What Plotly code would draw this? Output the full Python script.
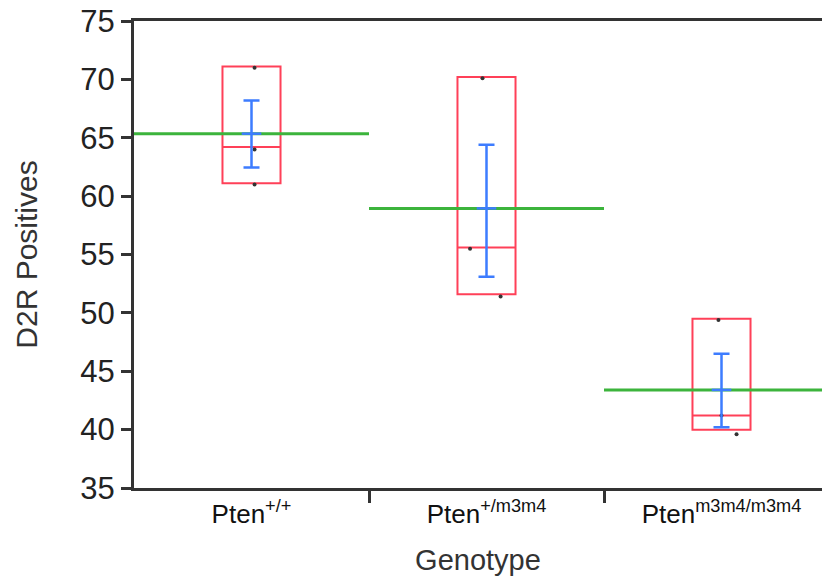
import plotly.graph_objects as go

categories = ["Pten<sup>+/+</sup>", "Pten<sup>+/m3m4</sup>", "Pten<sup>m3m4/m3m4</sup>"]
box_low = [61.1, 51.6, 40.0]
box_high = [71.1, 70.2, 49.5]
medians = [64.2, 55.6, 41.2]
means = [65.35, 58.95, 43.4]
err_low = [62.45, 53.1, 40.2]
err_high = [68.2, 64.4, 46.5]
points = [[71.0, 64.0, 61.0], [70.1, 55.5, 51.4], [49.4, 41.2, 39.6]]
jitter = [[0.013, 0.013, 0.013], [-0.017, -0.07, 0.06], [-0.013, 0.0, 0.064]]
y_ticks = [35, 40, 45, 50, 55, 60, 65, 70, 75]

RED = "#ff4058"
GREEN = "#3cb43c"
BLUE = "#3d7cff"
AX = "#333333"
FONT = "Liberation Sans, Arial, sans-serif"
NARROW = "Liberation Sans Narrow, Arial Narrow, Liberation Sans, sans-serif"

xs = list(range(len(categories)))
fig = go.Figure()

# boxes
for i in xs:
    fig.add_trace(go.Box(
        x=[i], q1=[box_low[i]], q3=[box_high[i]], median=[medians[i]],
        lowerfence=[box_low[i]], upperfence=[box_high[i]],
        width=0.247, line=dict(color=RED, width=2),
        fillcolor="rgba(0,0,0,0)", boxpoints=False, hoverinfo="skip",
        showlegend=False,
    ))

# raw points
px, py = [], []
for i in xs:
    for v, j in zip(points[i], jitter[i]):
        px.append(i + j)
        py.append(v)
fig.add_trace(go.Scatter(x=px, y=py, mode="markers",
                         marker=dict(color="#333333", size=4),
                         showlegend=False, hoverinfo="skip"))

# group mean lines
gx, gy = [], []
for i in xs:
    gx += [i - 0.5, i + 0.5, None]
    gy += [means[i], means[i], None]
fig.add_trace(go.Scatter(x=gx, y=gy, mode="lines",
                         line=dict(color=GREEN, width=3),
                         showlegend=False, hoverinfo="skip"))

# mean error bars
fig.add_trace(go.Scatter(
    x=xs, y=means, mode="markers",
    marker=dict(symbol="line-ew", size=14, line=dict(color=BLUE, width=2.5), color=BLUE),
    error_y=dict(type="data", symmetric=False,
                 array=[h - m for h, m in zip(err_high, means)],
                 arrayminus=[m - l for m, l in zip(means, err_low)],
                 color=BLUE, thickness=2.5, width=8),
    showlegend=False, hoverinfo="skip"))

fig.update_layout(
    width=822, height=582,
    margin=dict(l=134, r=0, t=21, b=94),
    plot_bgcolor="white", paper_bgcolor="white",
    font=dict(family=FONT, color="#1a1a1a"),
    xaxis=dict(
        automargin=False,
        range=[-0.5, -0.5 + 688 / 235], tickmode="array", tickvals=xs, ticktext=categories,
        ticks="outside", ticklen=1, tickcolor="rgba(0,0,0,0)",
        tickfont=dict(size=26, color="#111111", family=NARROW),
        ticklabeloverflow="allow",
        showline=True, linecolor=AX, linewidth=3, mirror=True,
        showgrid=False, zeroline=False,
        minor=dict(tickvals=[0.5, 1.5], ticks="outside", ticklen=12, tickwidth=2.5, tickcolor=AX),
        title=dict(text="Genotype", font=dict(size=29, color="#333333", family=FONT), standoff=22),
    ),
    yaxis=dict(
        automargin=False,
        range=[35, 75], tickmode="array", tickvals=y_ticks,
        ticks="outside", ticklen=10, tickwidth=2.5, tickcolor=AX,
        tickfont=dict(size=31, color="#222222", family=FONT),
        ticklabeloverflow="allow",
        showline=True, linecolor=AX, linewidth=3,
        showgrid=False, zeroline=False,
        title=dict(text="D2R Positives", font=dict(size=30, color="#333333", family=FONT), standoff=34),
    ),
)

fig.write_html("out.html", config={"displayModeBar": False},
               post_script="document.body.style.margin='0';document.body.style.padding='0';")
